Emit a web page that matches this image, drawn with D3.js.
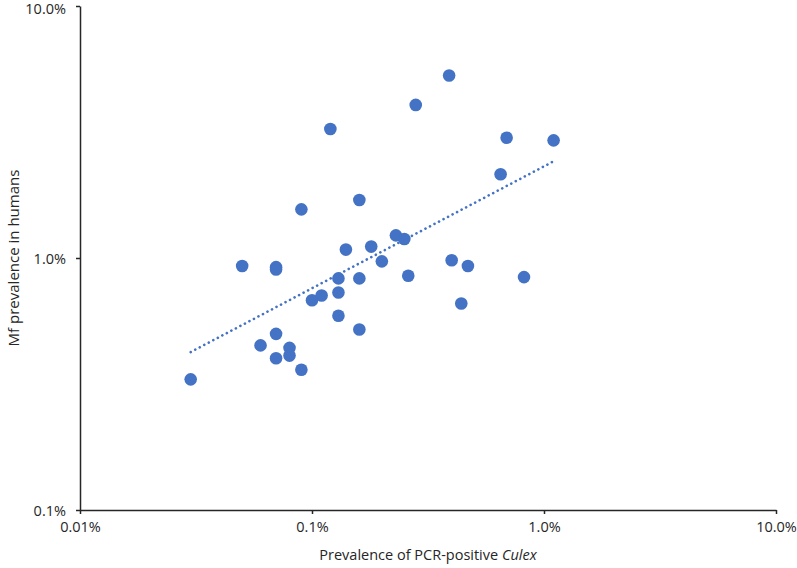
<!DOCTYPE html>
<html>
<head>
<meta charset="utf-8">
<script src="https://cdn.jsdelivr.net/npm/d3@7"></script>
<style>
  body { margin: 0; background: #fff; }
  svg text { font-family: "Open Sans", "Liberation Sans", sans-serif; }
</style>
</head>
<body>
<svg id="chart" width="797" height="568"></svg>
<script>
// Data: prevalence (%) of PCR-positive Culex (x) and Mf prevalence in humans (y)
const culexPct = [0.03, 0.05, 0.07, 0.07, 0.09, 0.12, 0.16, 0.28, 0.39, 0.69, 1.1, 0.65,
                  0.23, 0.25, 0.18, 0.14, 0.20, 0.40, 0.47, 0.82, 0.26, 0.13, 0.16, 0.13,
                  0.11, 0.10, 0.44, 0.13, 0.16, 0.07, 0.06, 0.08, 0.07, 0.08, 0.09];
const mfPct =    [0.33, 0.93, 0.92, 0.90, 1.56, 3.25, 1.70, 4.05, 5.30, 3.00, 2.93, 2.15,
                  1.23, 1.19, 1.11, 1.08, 0.97, 0.98, 0.93, 0.84, 0.85, 0.83, 0.83, 0.73,
                  0.71, 0.68, 0.66, 0.59, 0.52, 0.50, 0.45, 0.44, 0.40, 0.41, 0.36];
const xTicks = [0.01, 0.1, 1, 10];
const xTickLabels = ["0.01%", "0.1%", "1.0%", "10.0%"];
const yTicks = [0.1, 1, 10];
const yTickLabels = ["0.1%", "1.0%", "10.0%"];

const svg = d3.select("#chart");
const mLeft = 80, mRight = 776, mTop = 6, mBottom = 510;
const axisColor = "#262626";
const dotColor = "#4472C4";

const x = d3.scaleLog().domain([0.01, 10]).range([mLeft, mRight]);
const y = d3.scaleLog().domain([0.1, 10]).range([mBottom, mTop]);

// Axes
const xAxis = d3.axisBottom(x).tickValues(xTicks)
  .tickFormat((d, i) => xTickLabels[i]).tickSize(4).tickSizeOuter(0);
const gx = svg.append("g").attr("transform", `translate(0,${mBottom})`).call(xAxis);
const yAxis = d3.axisLeft(y).tickValues(yTicks)
  .tickFormat((d, i) => yTickLabels[i]).tickSize(4).tickSizeOuter(0);
const gy = svg.append("g").attr("transform", `translate(${mLeft},0)`).call(yAxis);

[gx, gy].forEach(g => {
  g.select(".domain").attr("stroke", axisColor).attr("stroke-width", 1.5);
  g.selectAll(".tick line").attr("stroke", axisColor).attr("stroke-width", 1.5);
  g.selectAll(".tick text").attr("fill", "#262626").style("font-size", "14.5px");
});
gx.selectAll(".tick text").attr("dy", "1.05em");
gy.selectAll(".tick text").attr("x", -14).attr("dy", "0.36em");
gy.selectAll(".tick text").filter(d => d === 10).attr("dy", "0.5em");

// Trend line (power fit, least squares in log-log space)
const lx = culexPct.map(Math.log10), ly = mfPct.map(Math.log10);
const mx = d3.mean(lx), my = d3.mean(ly);
const slope = d3.sum(lx.map((v, i) => (v - mx) * (ly[i] - my))) / d3.sum(lx.map(v => (v - mx) ** 2));
const intercept = my - slope * mx;
const xMin = d3.min(culexPct), xMax = d3.max(culexPct);
const trendX = d3.range(0, 51).map(i => xMin * Math.pow(xMax / xMin, i / 50));
const line = d3.line().x(d => x(d)).y(d => y(Math.pow(10, intercept + slope * Math.log10(d))));
svg.append("path").datum(trendX).attr("d", line)
  .attr("fill", "none").attr("stroke", dotColor).attr("stroke-width", 2.6)
  .attr("stroke-linecap", "round").attr("stroke-dasharray", "0.1 5");

// Points
svg.append("g").selectAll("circle").data(culexPct).join("circle")
  .attr("cx", d => x(d)).attr("cy", (d, i) => y(mfPct[i])).attr("r", 6.3)
  .attr("fill", dotColor);

// Axis titles
const xt = svg.append("text").attr("x", 428).attr("y", 560).attr("text-anchor", "middle")
  .attr("fill", "#262626").style("font-size", "14.5px");
xt.append("tspan").text("Prevalence of PCR-positive ");
xt.append("tspan").style("font-style", "italic").text("Culex");
svg.append("text").attr("transform", "translate(19,258) rotate(-90)").attr("text-anchor", "middle")
  .attr("fill", "#262626").style("font-size", "15px").text("Mf prevalence in humans");
</script>
</body>
</html>
